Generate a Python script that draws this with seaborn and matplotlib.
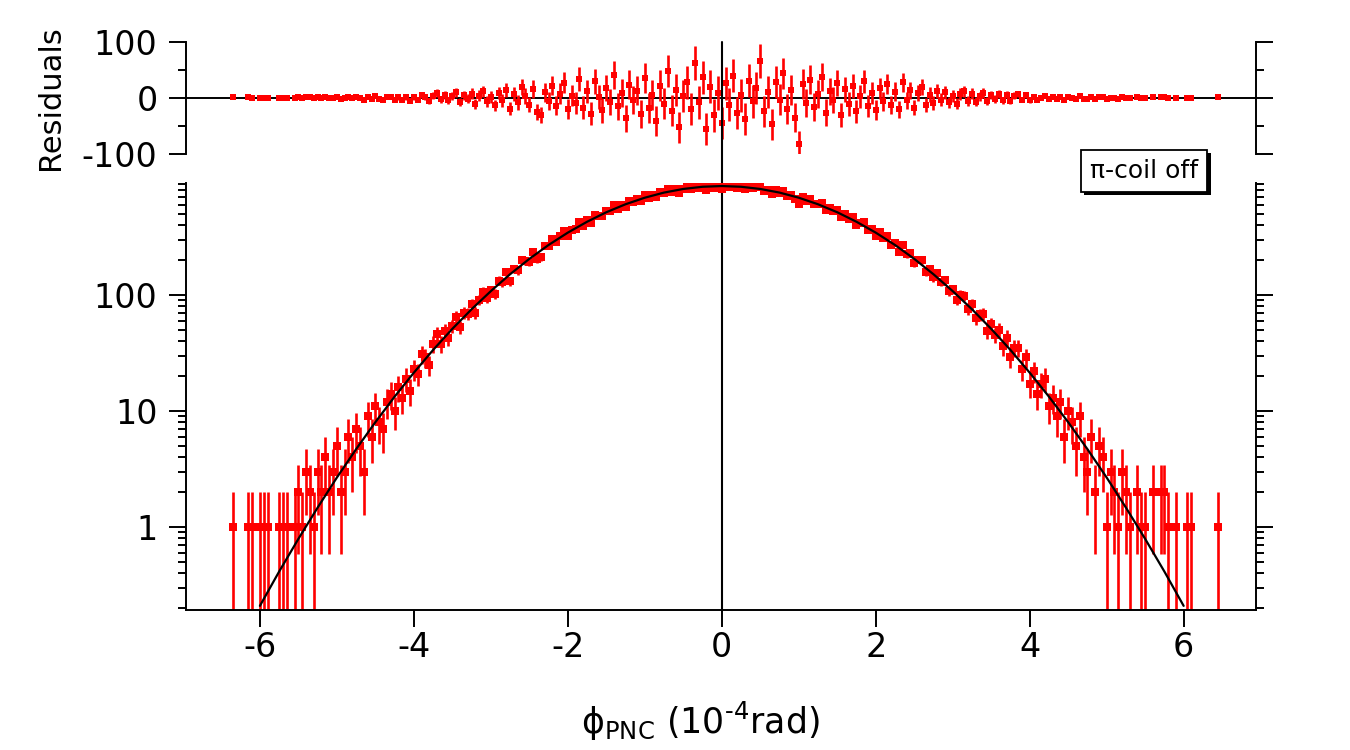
import numpy as np
import matplotlib
matplotlib.use("Agg")
import matplotlib.pyplot as plt
import matplotlib.patheffects as pe
from matplotlib.ticker import FixedLocator, FuncFormatter, NullFormatter, NullLocator
import seaborn as sns

# histogram bins of phi_PNC (1e-4 rad), 0.05 wide, -6.5 .. 6.5
bin_centers = np.round(np.linspace(-6.5, 6.5, 261), 2)

# counts per bin
counts = [
    # -6.50 .. -4.05
    0, 0, 0, 1, 0, 0, 0, 1, 1, 0,
    1, 1, 1, 0, 0, 1, 1, 1, 0, 1,
    2, 1, 3, 2, 1, 3, 2, 4, 2, 3,
    5, 2, 3, 6, 4, 7, 5, 3, 9, 6,
    11, 8, 7, 12, 14, 10, 16, 13, 19, 15,
    # -4.00 .. -0.05
    23, 21, 31, 29, 25, 38, 46, 38, 49, 43,
    54, 65, 53, 70, 69, 83, 70, 91, 106, 95,
    110, 103, 133, 129, 157, 132, 168, 163, 202, 196,
    193, 233, 204, 212, 266, 265, 306, 285, 322, 356,
    325, 365, 368, 428, 394, 440, 418, 494, 483, 477,
    535, 528, 594, 556, 597, 570, 647, 637, 671, 645,
    725, 688, 727, 695, 772, 754, 825, 766, 815, 759,
    824, 858, 819, 908, 844, 895, 807, 886, 837, 879,
    # 0.00
    826,
    # 0.05 .. 4.00
    896, 856, 906, 835, 863, 814, 877, 832, 848, 887,
    787, 811, 742, 806, 761, 794, 716, 735, 671, 607,
    699, 649, 674, 607, 613, 626, 545, 565, 531, 544,
    468, 497, 453, 467, 404, 414, 424, 363, 370, 323,
    346, 308, 324, 271, 281, 236, 270, 225, 231, 188,
    202, 201, 159, 167, 142, 155, 130, 134, 108, 112,
    91, 101, 99, 76, 83, 63, 68, 69, 49, 56,
    45, 50, 36, 43, 29, 35, 35, 23, 29, 17,
    # 4.05 .. 6.50
    22, 14, 17, 19, 11, 13, 9, 12, 6, 10,
    8, 5, 9, 4, 3, 6, 2, 5, 4, 1,
    3, 2, 1, 3, 2, 1, 0, 2, 1, 1,
    0, 2, 0, 2, 2, 1, 0, 1, 0, 0,
    1, 1, 0, 0, 0, 0, 0, 0, 1, 0,
]

# residuals (data - fit) per bin
residuals = [
    0, 0, 0, 1.0, 0, 0, 0, 0.9, 0.8, 0,
    0.8, 0.8, 0.7, 0, 0, 0.6, 0.5, 0.4, 0, 0.3,
    1.2, 0.1, 2.0, 0.9, -0.3, 1.5, 0.3, 2.1, -0.1, 0.6,
    2.3, -1.0, -0.4, 2.2, -0.2, 2.3, -0.2, -2.8, 2.5, -1.2,
    3.0, -0.9, -2.8, 1.1, 2.0, -3.3, 1.3, -3.2, 1.2, -4.5,
    2, -3, 5, 1, -6, 4, 9, -2, 6, -4,
    3, 10, -7, 5, -1, 8, -11, 4, 12, -6,
    2, -13, 9, -4, 15, -19, 7, -8, 20, 3,
    -12, 16, -25, -30, 10, -5, 22, -14, 8, 27,
    -20, 4, -9, 34, -17, 12, -28, 30, 2, -22,
    18, -7, 41, -15, 9, -36, 24, -4, 13, -29,
    35, -18, 6, -41, 22, -10, 48, -23, 15, -52,
    3, 28, -19, 62, -8, 37, -55, 20, -31, 9,
    -44,
    26, -12, 40, -27, 5, -38, 31, -6, 18, 66,
    -24, 11, -47, 29, -3, 44, -20, 14, -35, -83,
    25, -9, 33, -16, 7, 38, -26, 12, -4, 27,
    -31, 16, -11, 21, -24, 3, 30, -14, 9, -22,
    17, -6, 25, -13, 11, -20, 28, -4, 14, -17,
    9, 19, -12, 6, -9, 13, -3, 10, -8, 4,
    -10, 7, 12, -5, 8, -7, 3, 9, -6, 5,
    -2, 7, -4, 6, -5, 4, 7, -3, 5, -4,
    2.5, -3.8, 0.8, 4.3, -2.3, 1.0, -1.9, 2.2, -2.9, 2.0,
    0.8, -1.5, 3.2, -1.2, -1.7, 1.8, -1.8, 1.6, 1.0, -1.7,
    0.6, -0.1, -0.9, 1.3, 0.5, -0.3, 0, 1.0, 0.1, 0.2,
    0, 1.4, 0, 1.6, 1.6, 0.7, 0, 0.7, 0, 0,
    0.8, 0.8, 0, 0, 0, 0, 0, 0, 0.9, 0,
]

# gaussian fit curve, read at 0.25 steps
fit_x = [-6.0, -5.75, -5.5, -5.25, -5.0, -4.75, -4.5, -4.25, -4.0, -3.75,
         -3.5, -3.25, -3.0, -2.75, -2.5, -2.25, -2.0, -1.75, -1.5, -1.25,
         -1.0, -0.75, -0.5, -0.25, 0.0, 0.25, 0.5, 0.75, 1.0, 1.25,
         1.5, 1.75, 2.0, 2.25, 2.5, 2.75, 3.0, 3.25, 3.5, 3.75,
         4.0, 4.25, 4.5, 4.75, 5.0, 5.25, 5.5, 5.75, 6.0]
fit_y = [0.209, 0.413, 0.79, 1.47, 2.67, 4.69, 8.01, 13.3, 21.4, 33.6,
         51.1, 75.4, 108, 151, 205, 270, 345, 428, 517, 606,
         690, 764, 821, 857.5, 870, 857.5, 821, 764, 690, 606,
         517, 428, 345, 270, 205, 151, 108, 75.4, 51.1, 33.6,
         21.4, 13.3, 8.01, 4.69, 2.67, 1.47, 0.79, 0.413, 0.209]

legend_text = "π-coil off"

sns.set_style("ticks")
plt.rcParams['font.family'] = ['DejaVu Sans']
plt.rcParams['mathtext.fontset'] = 'dejavusans'
plt.rcParams['axes.unicode_minus'] = False
plt.rcParams['axes.linewidth'] = 1.4
for k in ('text.color', 'axes.labelcolor', 'xtick.color', 'ytick.color', 'axes.edgecolor'):
    plt.rcParams[k] = 'black'

red = '#ff0000'
W, H = 1350, 750
fig = plt.figure(figsize=(13.5, 7.5), dpi=100)
ax_res = fig.add_axes([186 / W, 1 - 154 / H, 1070 / W, 112 / H])
ax = fig.add_axes([186 / W, 1 - 610 / H, 1070 / W, 427 / H])

cnt = np.array(counts, dtype=float)
res = np.array(residuals, dtype=float)
err = np.sqrt(cnt)
has = cnt > 0
xlim = (-6.96, 6.94)

# --- main (log) panel
ax.set_yscale('log')
ax.set_xlim(*xlim)
ax.set_ylim(0.1925, 924)
ax.errorbar(bin_centers[has], cnt[has], yerr=err[has], fmt='none',
            ecolor=red, elinewidth=1.9, capsize=0, zorder=2)
sns.scatterplot(x=bin_centers[has], y=cnt[has], marker='s', s=26,
                color=red, linewidth=0, ax=ax, zorder=3)
sns.lineplot(x=fit_x, y=fit_y, color='black', linewidth=1.6, ax=ax, zorder=4)
# zero line runs through both panels and the gap between them
ax.axvline(0, ymin=0, ymax=(610 - 42) / 427, color='black', lw=1.5,
           clip_on=False, zorder=1)

ax.set_xticks([-6, -4, -2, 0, 2, 4, 6])
ax.xaxis.set_minor_locator(NullLocator())
ax.yaxis.set_major_locator(FixedLocator([1, 10, 100]))
ax.yaxis.set_major_formatter(FuncFormatter(lambda v, p: f'{v:g}'))
ax.yaxis.set_minor_locator(FixedLocator(
    [m * 10.0 ** e for e in (-1, 0, 1, 2) for m in range(2, 10)]))
ax.yaxis.set_minor_formatter(NullFormatter())
ax.spines['top'].set_visible(False)
ax.tick_params(axis='y', which='both', direction='out', left=True, right=True,
               labelright=False, width=1.4, labelsize=24, pad=8)
ax.tick_params(axis='y', which='major', length=12.5)
ax.tick_params(axis='y', which='minor', length=6)
ax.tick_params(axis='x', which='major', direction='out', length=12, width=1.4,
               labelsize=24, pad=3)
ax.set_xlabel(r'$\text{ϕ}_{\text{PNC}}$ (10$^{\text{-4}}$rad)', fontsize=25)
ax.xaxis.set_label_coords((700 - 186) / 1070, -(700 - 610) / 427)
ax.set_ylabel('')

# --- residual panel
ax_res.set_xlim(*xlim)
ax_res.set_ylim(-100, 100)
ax_res.errorbar(bin_centers[has], res[has], yerr=err[has], fmt='none',
                ecolor=red, elinewidth=1.9, capsize=0, zorder=2)
sns.scatterplot(x=bin_centers[has], y=res[has], marker='s', s=20,
                color=red, linewidth=0, ax=ax_res, zorder=3)
ax_res.axhline(0, color='black', lw=1.4, zorder=1)
ax_res.set_yticks([-100, 0, 100])
ax_res.set_yticklabels(['-100', '0', '100'])
ax_res.yaxis.set_minor_locator(FixedLocator([-50, 50]))
ax_res.set_xticks([])
for s in ('top', 'bottom'):
    ax_res.spines[s].set_visible(False)
ax_res.tick_params(axis='y', which='both', direction='out', left=True, right=True,
                   labelright=False, width=1.4, labelsize=24, pad=8)
ax_res.tick_params(axis='y', which='major', length=12.5)
ax_res.tick_params(axis='y', which='minor', length=6)
ax_res.set_ylabel('Residuals', fontsize=22, va='center')
ax_res.yaxis.set_label_coords((50 - 186) / 1070, 0.5)

# legend box with drop shadow
t = fig.text(1144 / W, 1 - 171 / H, legend_text, ha='center', va='center', fontsize=18,
             bbox=dict(boxstyle='square,pad=0.36', fc='white', ec='black', lw=1.3))
t.get_bbox_patch().set_path_effects([
    pe.SimplePatchShadow(offset=(2.5, -2.5), shadow_rgbFace='black', alpha=1.0),
    pe.Normal()])

fig.savefig('out.png', dpi=100)
